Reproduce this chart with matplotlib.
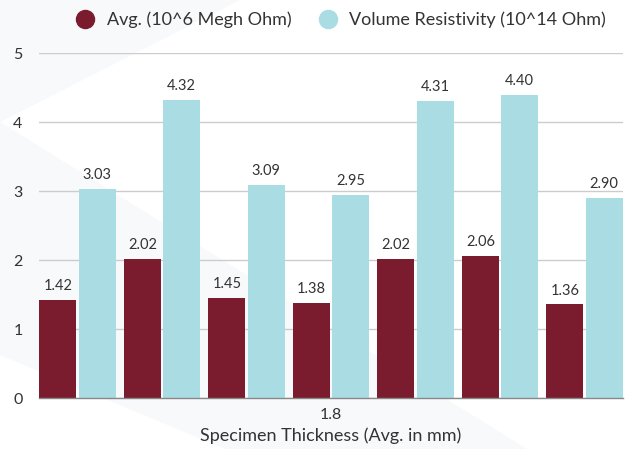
import matplotlib
matplotlib.use("Agg")
import matplotlib.pyplot as plt
from matplotlib.lines import Line2D
from matplotlib.patches import Polygon
import numpy as np

plt.rcParams['font.family'] = ['Lato', 'DejaVu Sans']

series_names = ["Avg. (10^6 Megh Ohm)", "Volume Resistivity (10^14 Ohm)"]
avg_values = [1.42, 2.02, 1.45, 1.38, 2.02, 2.06, 1.36]
vol_values = [3.03, 4.32, 3.09, 2.95, 4.31, 4.40, 2.90]
value_labels_avg = ["1.42", "2.02", "1.45", "1.38", "2.02", "2.06", "1.36"]
value_labels_vol = ["3.03", "4.32", "3.09", "2.95", "4.31", "4.40", "2.90"]
x_tick_label = "1.8"
x_title = "Specimen Thickness (Avg. in mm)"
colors = ["#7b1c2e", "#a9dde3"]

W, H = 633, 449
fig = plt.figure(figsize=(W / 100, H / 100), dpi=100)

# faint background shapes (figure pixel coords -> fraction)
def P(pts):
    return [(x / W, 1 - y / H) for x, y in pts]
bg = "#f8f9fb"
fig.patches.append(Polygon(P([(0, 0), (240, 0), (0, 122)]), closed=True,
                           transform=fig.transFigure, facecolor=bg, edgecolor="none", zorder=-10))
fig.patches.append(Polygon(P([(0, 122), (527, 449), (225, 449), (0, 355)]), closed=True,
                           transform=fig.transFigure, facecolor=bg, edgecolor="none", zorder=-10))

left, right = 39.3 / W, 622.7 / W
bottom, top = 1 - 398.3 / H, 1 - 53.3 / H
ax = fig.add_axes([left, bottom, right - left, top - bottom])
ax.set_facecolor("none")
ax.set_zorder(1)

n = len(avg_values)
x = np.arange(n)
bw = 0.438
off = 0.232
ax.bar(x - off, avg_values, width=bw, color=colors[0], zorder=3)
ax.bar(x + off, vol_values, width=bw, color=colors[1], zorder=3)

for xi, v, s in zip(x, avg_values, value_labels_avg):
    ax.annotate(s, (xi - off, v), xytext=(0, 5), textcoords="offset points",
                ha="center", va="bottom", fontsize=10.5, color="#333333")
for xi, v, s in zip(x, vol_values, value_labels_vol):
    ax.annotate(s, (xi + off, v), xytext=(0, 5), textcoords="offset points",
                ha="center", va="bottom", fontsize=10.5, color="#333333")

ax.set_xlim(-0.452, n - 1 + 0.452)
ax.set_ylim(0, 5)
ax.set_yticks([0, 1, 2, 3, 4, 5])
ax.set_xticks([(n - 1) / 2])
ax.set_xticklabels([x_tick_label])
ax.tick_params(axis="both", length=0, labelsize=11.5, colors="#333333")
ax.tick_params(axis="y", pad=12)
ax.tick_params(axis="x", pad=7)
ax.yaxis.grid(True, color="#cccccc", linewidth=1, zorder=0)
for s in ["top", "right", "left"]:
    ax.spines[s].set_visible(False)
ax.spines["bottom"].set_color("#888888")
ax.spines["bottom"].set_linewidth(1)
ax.spines["bottom"].set_zorder(4)
ax.set_xlabel(x_title, fontsize=13, color="#333333", labelpad=4)

handles = [Line2D([0], [0], marker="o", linestyle="none", markersize=13,
                  markerfacecolor=c, markeredgecolor=c) for c in colors]
fig.legend(handles, series_names, loc="center", bbox_to_anchor=(0.532, 1 - 20 / H),
           ncol=2, frameon=False, fontsize=13, handletextpad=0.2, columnspacing=1.0,
           labelcolor="#333333")

fig.savefig("out.png", dpi=100)
